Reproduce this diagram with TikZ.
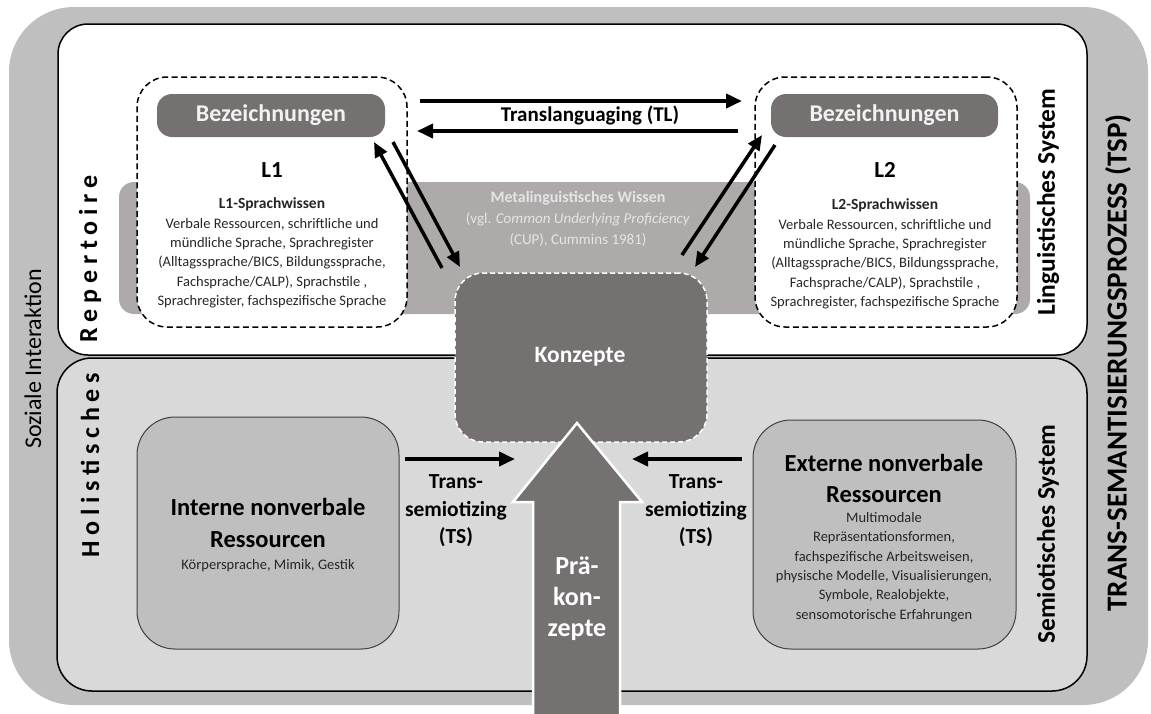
\documentclass[tikz,border=0pt]{standalone}
\usepackage{fontspec}
\setmainfont{Carlito}
\newfontfamily\spacedfont[LetterSpace=22]{Carlito}
\usetikzlibrary{arrows.meta}
\definecolor{outergray}{HTML}{BFBFBF}
\definecolor{lightbox}{HTML}{D9D9D9}
\definecolor{bandgray}{HTML}{AEAAAA}
\definecolor{darkbox}{HTML}{767171}
\definecolor{bodytext}{HTML}{262626}
\tikzset{
  area/.style={inner sep=0pt, outer sep=0pt},
  dashbox/.style={area, draw=black, line width=1.5pt, dash pattern=on 6pt off 3.5pt, fill=white, rounded corners=30pt},
  bezbox/.style={area, fill=darkbox, rounded corners=15pt, text=white!95!black, font=\fontsize{24}{28}\selectfont\bfseries},
  resbox/.style={area, fill=outergray, draw=black!75, line width=1pt, rounded corners=38pt},
  bodytxt/.style={align=center, text=bodytext, font=\fontsize{14.5}{19.4}\selectfont, inner sep=0pt},
  fatarrow/.style={line width=3.8pt, -{Triangle[length=16pt,width=14pt]}},
  diagarrow/.style={line width=3.5pt, -{Triangle[length=15pt,width=13pt]}},
  sidelabel/.style={rotate=90, inner sep=0pt, font=\fontsize{25.5}{29}\selectfont\bfseries},
  tslabel/.style={align=center, font=\fontsize{21.5}{27.5}\selectfont\bfseries, inner sep=0pt},
}
\begin{document}
\begin{tikzpicture}[x=1pt,y=-1pt]
\useasboundingbox (0,0) rectangle (1151,713);
\fill[white] (0,0) rectangle (1151,713);
% outer frame
\node[area, fill=outergray, rounded corners=65pt, minimum width=1139pt, minimum height=698pt] (outer) at (578.5,356) {};
% linguistic (top) and semiotic (bottom) systems
\node[area, fill=white, draw=black, line width=1.5pt, rounded corners=30pt, minimum width=1029pt, minimum height=331pt] (ling) at (572.5,189.5) {};
\node[area, fill=lightbox, draw=black, line width=1.5pt, rounded corners=35pt, minimum width=1030pt, minimum height=333pt] (semio) at (572,524.5) {};
% metalinguistic band
\node[area, fill=bandgray, rounded corners=15pt, minimum width=911pt, minimum height=132pt] (band) at (574.5,248) {};
\node[align=center, text=white!90!black, inner sep=0pt, font=\fontsize{15}{20.8}\selectfont] (metatxt) at (578,219)
  {{\fontsize{16}{20.8}\selectfont\bfseries Metalinguistisches Wissen}\\(vgl. \textit{Common Underlying Proficiency}\\(CUP), Cummins 1981)};
% L1 and L2 boxes
\node[dashbox, minimum width=270pt, minimum height=250pt] (L1box) at (272,202) {};
\node[dashbox, minimum width=262pt, minimum height=250pt] (L2box) at (886,202) {};
\node[bezbox, minimum width=228pt, minimum height=43pt] (bez1) at (271,115.5) {Bezeichnungen};
\node[bezbox, minimum width=227pt, minimum height=43pt] (bez2) at (884.5,115.5) {Bezeichnungen};
\node[font=\fontsize{23}{27}\selectfont\bfseries, inner sep=0pt] (L1t) at (272,170) {L1};
\node[font=\fontsize{23}{27}\selectfont\bfseries, inner sep=0pt] (L2t) at (885,170) {L2};
\node[bodytxt] (L1txt) at (272,253) {{\fontsize{15.5}{19.4}\selectfont\bfseries L1-Sprachwissen}\\Verbale Ressourcen, schriftliche und\\mündliche Sprache, Sprachregister\\(Alltagssprache/BICS, Bildungssprache,\\Fachsprache/CALP), Sprachstile ,\\Sprachregister, fachspezifische Sprache};
\node[bodytxt] (L2txt) at (885,254) {{\fontsize{15.5}{19.4}\selectfont\bfseries L2-Sprachwissen}\\Verbale Ressourcen, schriftliche und\\mündliche Sprache, Sprachregister\\(Alltagssprache/BICS, Bildungssprache,\\Fachsprache/CALP), Sprachstile ,\\Sprachregister, fachspezifische Sprache};
% Translanguaging
\coordinate (tlA) at (420,101);
\coordinate (tlB) at (742,101);
\coordinate (tlC) at (738,131);
\coordinate (tlD) at (417,131);
\draw[fatarrow] (tlA) -- (tlB);
\draw[fatarrow] (tlC) -- (tlD);
\node[font=\fontsize{21}{25}\selectfont\bfseries, inner sep=0pt] (tl) at (590,115) {Translanguaging (TL)};
% Konzepte
\node[area, fill=darkbox, draw=white, line width=1.5pt, dash pattern=on 5pt off 3pt, rounded corners=28pt, minimum width=252pt, minimum height=169pt] (konz) at (581,357.5) {};
\node[text=white, font=\fontsize{23.5}{27}\selectfont\bfseries, inner sep=0pt] (konzt) at (580,357) {Konzepte};
% diagonal arrows
\coordinate (d1a) at (442,268);
\coordinate (d1b) at (374,142);
\coordinate (d2a) at (393,142);
\coordinate (d2b) at (460,267);
\coordinate (d3a) at (682,255);
\coordinate (d3b) at (762,135);
\coordinate (d4a) at (775,145);
\coordinate (d4b) at (695,267);
\draw[diagarrow] (d1a) -- (d1b);
\draw[diagarrow] (d2a) -- (d2b);
\draw[diagarrow] (d3a) -- (d3b);
\draw[diagarrow] (d4a) -- (d4b);
% resources boxes
\node[resbox, minimum width=262pt, minimum height=232pt] (intern) at (268,533) {};
\node[align=center, font=\fontsize{24.5}{32}\selectfont\bfseries, inner sep=0pt] (interntitle) at (268,523) {Interne nonverbale\\Ressourcen};
\node[bodytxt] (interntxt) at (268,566) {Körpersprache, Mimik, Gestik};
\node[resbox, minimum width=263pt, minimum height=229pt] (extern) at (884.5,534.5) {};
\node[align=center, font=\fontsize{24.5}{31}\selectfont\bfseries, inner sep=0pt] (externtitle) at (884,478) {Externe nonverbale\\Ressourcen};
\node[bodytxt] (externtxt) at (884,567) {Multimodale\\Repräsentationsformen,\\fachspezifische Arbeitsweisen,\\physische Modelle, Visualisierungen,\\Symbole, Realobjekte,\\sensomotorische Erfahrungen};
% trans-semiotizing
\coordinate (tsA) at (405,459);
\coordinate (tsB) at (515,459);
\coordinate (tsC) at (742,459);
\coordinate (tsD) at (632,459);
\draw[fatarrow] (tsA) -- (tsB);
\draw[fatarrow] (tsC) -- (tsD);
\node[tslabel] (ts1) at (456,511) {Trans-\\semiotizing\\(TS)};
\node[tslabel] (ts2) at (696,511) {Trans-\\semiotizing\\(TS)};
% big arrow Praekonzepte
\draw[fill=darkbox, draw=white, line width=2.5pt, line join=miter] (577,423) -- (513,502) -- (533,502) -- (533,720) -- (620,720) -- (620,502) -- (642,502) -- cycle;
\node[align=center, text=white, font=\fontsize{26}{31}\selectfont\bfseries, inner sep=0pt] (prae) at (577,599) {Prä-\\kon-\\zepte};
% side labels
\node[rotate=90, inner sep=0pt, font=\fontsize{24}{28}\selectfont] (soz) at (33,359) {Soziale Interaktion};
\node[rotate=90, inner sep=0pt, font=\fontsize{26}{30}\spacedfont\bfseries] (rep) at (90,259) {Repertoire};
\node[rotate=90, inner sep=0pt, font=\fontsize{26}{30}\spacedfont\bfseries] (hol) at (90,465) {Holistisches};
\node[sidelabel] (lingsys) at (1048,202) {Linguistisches System};
\node[sidelabel] (semsys) at (1048,534) {Semiotisches System};
\node[sidelabel, font=\fontsize{29}{33}\selectfont\bfseries] (tsp) at (1118,363) {TRANS-SEMANTISIERUNGSPROZESS (TSP)};
\end{tikzpicture}
\end{document}
